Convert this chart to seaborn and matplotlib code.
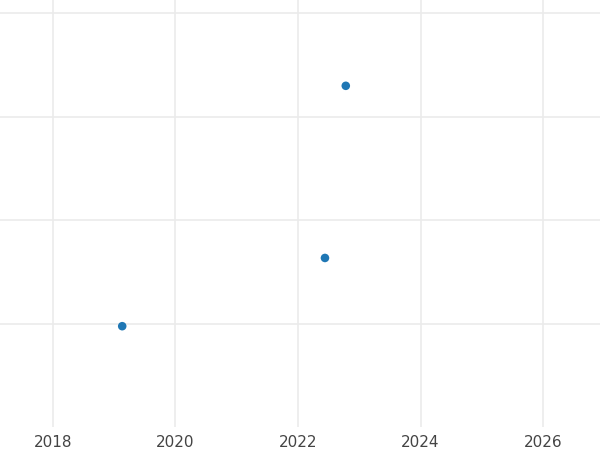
import numpy as np
import pandas as pd
import matplotlib
matplotlib.use('Agg')
import matplotlib.pyplot as plt
import seaborn as sns

# Values
years = [2019.13, 2022.44, 2022.78]
values = [0.975, 1.635, 3.30]
x_ticks = [2018, 2020, 2022, 2024, 2026]
y_ticks = [1, 2, 3, 4]

df = pd.DataFrame({'year': years, 'value': values})

sns.set_style('white')
plt.rcParams['font.family'] = ['DejaVu Sans']

fig = plt.figure(figsize=(6, 4.5), dpi=100)
ax = fig.add_axes([0, 23 / 450, 1, 427 / 450])

sns.scatterplot(data=df, x='year', y='value', ax=ax, color='#1f77b4',
                s=38, edgecolor='none', zorder=3)

ax.set_xlim(2017.135, 2026.93)
ax.set_ylim(0.0, 4.13)
ax.set_xticks(x_ticks)
ax.set_xticklabels([str(t) for t in x_ticks])
ax.set_yticks(y_ticks)
ax.set_yticklabels([])
ax.grid(True, color='#ebebeb', linewidth=1.2)
ax.set_axisbelow(True)
ax.tick_params(axis='x', length=0, pad=6, labelsize=11, labelcolor='#444444')
ax.tick_params(axis='y', length=0)
ax.set_xlabel('')
ax.set_ylabel('')
for s in ax.spines.values():
    s.set_visible(False)

fig.savefig('out.png', dpi=100)
